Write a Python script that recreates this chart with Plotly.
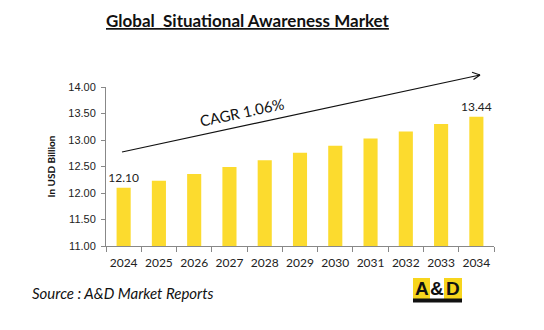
import plotly.graph_objects as go

years = ["2024", "2025", "2026", "2027", "2028", "2029", "2030", "2031", "2032", "2033", "2034"]
values = [12.10, 12.23, 12.36, 12.49, 12.62, 12.76, 12.89, 13.03, 13.16, 13.30, 13.44]
labels = [f"{v:.2f}" if i in (0, len(values) - 1) else "" for i, v in enumerate(values)]
y_ticks = [11.0, 11.5, 12.0, 12.5, 13.0, 13.5, 14.0]

title_text = "Global  Situational Awareness Market"
cagr_text = "CAGR 1.06%"
source_text = "Source : A&D Market Reports"
y_title = "In USD Billion"

W, H = 544, 330
L, R, T, B = 106, 50, 87, 84
pw, ph = W - L - R, H - T - B


def px(x):
    return (x - L) / pw


def py(y):
    return (H - B - y) / ph


fig = go.Figure()
fig.add_trace(go.Bar(
    x=years, y=values, text=labels, textposition="outside", constraintext="none",
    textfont=dict(family="Lato, Open Sans, sans-serif", size=12, color="#222"),
    marker=dict(color="#FCDB2E", line=dict(width=0)),
    width=0.4, cliponaxis=False,
))

fig.update_layout(
    width=W, height=H, margin=dict(l=L, r=R, t=T, b=B, autoexpand=False),
    paper_bgcolor="white", plot_bgcolor="white", showlegend=False,
    font=dict(family="Liberation Sans, Arial, sans-serif", color="#222"),
    xaxis=dict(showline=True, linecolor="#888", linewidth=1, ticks="outside",
               tickson="boundaries", ticklen=5, tickcolor="#888", showgrid=False, tickangle=0,
               ticklabelstandoff=6,
               tickfont=dict(family="Lato, Open Sans, sans-serif", size=12, color="#222")),
    yaxis=dict(range=[11, 14], tickvals=y_ticks, tickformat=".2f", showline=True,
               linecolor="#888", linewidth=1, ticks="outside", ticklen=4, tickcolor="#888",
               showgrid=False, zeroline=False, ticklabelstandoff=3,
               tickfont=dict(family="Liberation Sans, Arial, sans-serif", size=11, color="#222"),
               title=dict(text=f"<b>{y_title}</b>", standoff=10,
                          font=dict(family="Lato, Open Sans, sans-serif", size=10, color="#111"))),
)


def note(x, y, text, size, family="Lato, Open Sans, sans-serif", xanchor="center", angle=0):
    fig.add_annotation(xref="paper", yref="paper", x=px(x), y=py(y), showarrow=False,
                       xanchor=xanchor, yanchor="middle", text=text, textangle=angle,
                       font=dict(family=family, size=size, color="#111"))


# title
note(248, 20, f"<b><u>{title_text}</u></b>", 17)

# CAGR arrow
tail = (122, 152)
tip = (480, 75)
fig.add_shape(type="line", xref="paper", yref="paper", x0=px(tail[0]), y0=py(tail[1]),
              x1=px(tip[0]), y1=py(tip[1]), line=dict(color="#111", width=1.2))
for ax_, ay_ in [(472, 72.3), (473.5, 79.5)]:
    fig.add_shape(type="line", xref="paper", yref="paper", x0=px(ax_), y0=py(ay_),
                  x1=px(tip[0]), y1=py(tip[1]), line=dict(color="#111", width=1.2))
note(242, 112, cagr_text, 15, angle=-12)

# source
note(30, 293, f"<i>{source_text}</i>", 15, xanchor="left")

# logo
fig.add_shape(type="rect", xref="paper", yref="paper", x0=px(413), x1=px(462), y0=py(302), y1=py(278),
              fillcolor="#F7D51D", line=dict(width=0))
fig.add_shape(type="rect", xref="paper", yref="paper", x0=px(430), x1=px(444), y0=py(299), y1=py(278),
              fillcolor="white", line=dict(width=0))
fig.add_shape(type="rect", xref="paper", yref="paper", x0=px(413), x1=px(462), y0=py(302.5), y1=py(298.5),
              fillcolor="#111", line=dict(width=0))
for ch, cx in [("A", 421.5), ("&", 437), ("D", 453)]:
    note(cx, 288.5, f"<b>{ch}</b>", 19, family="Liberation Sans, Arial, sans-serif")

fig.write_html("out.html")
